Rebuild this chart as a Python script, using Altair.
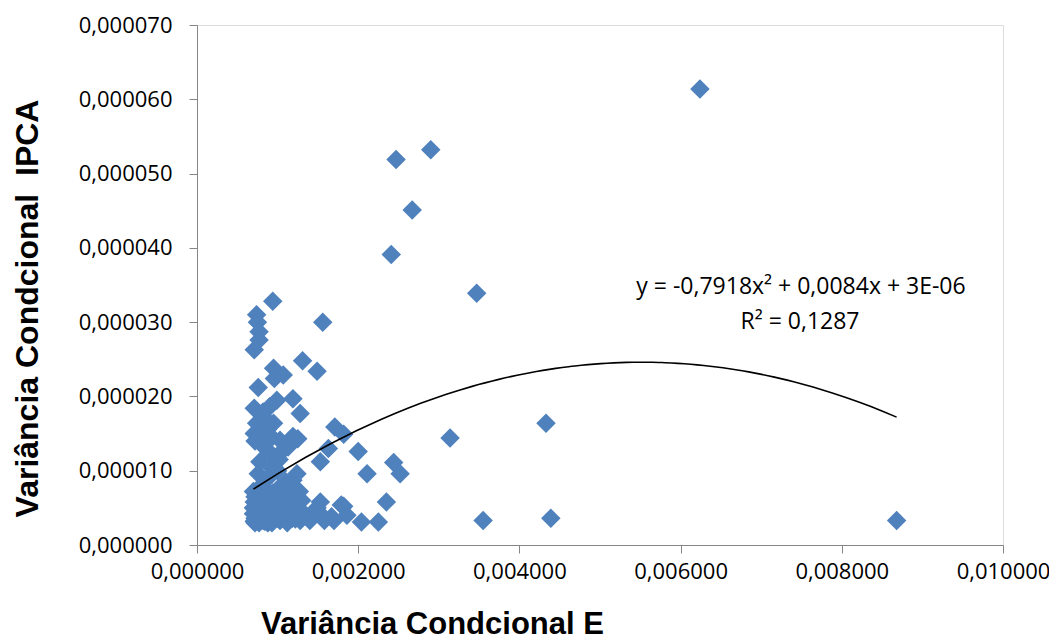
import altair as alt
import pandas as pd

# x values in units of 1e-3, y values in units of 1e-5
x_e3 = [6.24, 2.90, 2.47, 2.67, 2.41, 3.47, 1.56, 4.33, 3.14, 8.68, 4.39, 3.55,
        0.94, 0.74, 0.75, 0.77, 0.77, 0.71, 1.31, 1.49, 0.95, 1.07, 0.96,
        0.76, 1.19, 0.99, 0.71, 1.28, 0.82, 0.90, 0.74, 0.95, 0.85, 1.71, 1.82, 0.71, 0.87, 0.72, 1.19, 1.25, 1.03, 0.93, 0.80,
        2.00, 1.63, 1.53, 2.44, 2.52, 2.11, 1.24, 0.78, 0.91, 1.07, 0.76, 0.91, 1.19, 1.02, 1.13, 0.85, 1.00, 0.88,
        2.35, 1.82, 2.25, 2.04, 1.86, 1.70, 1.53, 1.44, 1.24, 1.28, 1.03, 0.82, 0.70, 0.72, 0.86, 1.03, 1.15, 1.79, 1.67, 1.55,
        1.58, 0.75, 0.80, 0.90, 0.95, 1.10, 1.18, 0.88, 0.72, 1.00, 1.10, 0.78, 0.95, 1.20, 1.35, 1.30, 1.12, 0.98, 0.85, 0.70,
        0.80, 1.40, 1.27, 1.49,
        0.72, 0.78, 0.84, 0.92, 0.97, 1.05, 1.08, 0.90, 0.82, 0.74, 1.15, 1.22, 0.86, 0.94, 1.02, 0.76, 0.88, 1.00, 1.14, 0.70,
        0.71, 0.73, 0.77, 0.79, 0.81, 0.83, 0.87, 0.89, 0.93, 0.96, 0.71, 0.75, 0.79, 0.84, 0.89, 0.93, 0.74, 0.81, 0.86, 0.91]
y_e5 = [6.14, 5.32, 5.19, 4.51, 3.91, 3.39, 3.00, 1.64, 1.44, 0.33, 0.36, 0.33,
        3.28, 3.10, 3.00, 2.87, 2.76, 2.63, 2.48, 2.34, 2.38, 2.29, 2.24,
        2.12, 1.97, 1.95, 1.84, 1.77, 1.79, 1.86, 1.64, 1.64, 1.70, 1.59, 1.49, 1.50, 1.55, 1.40, 1.46, 1.43, 1.41, 1.45, 1.45,
        1.26, 1.30, 1.12, 1.11, 0.96, 0.96, 0.96, 1.12, 1.24, 1.28, 0.96, 1.06, 0.87, 1.15, 1.32, 1.30, 1.00, 0.90,
        0.58, 0.52, 0.31, 0.31, 0.40, 0.33, 0.58, 0.42, 0.47, 0.33, 0.33, 0.33, 0.42, 0.65, 0.70, 0.60, 0.70, 0.54, 0.38, 0.40,
        0.33, 0.50, 0.80, 0.55, 0.40, 0.45, 0.36, 0.30, 0.30, 0.75, 0.85, 0.58, 0.65, 0.55, 0.40, 0.60, 0.30, 0.50, 0.45, 0.72,
        0.36, 0.33, 0.72, 0.50,
        0.36, 0.45, 0.38, 0.33, 0.42, 0.38, 0.52, 0.48, 0.55, 0.60, 0.40, 0.35, 0.62, 0.70, 0.45, 0.34, 0.40, 0.36, 0.60, 0.50,
        0.32, 0.44, 0.30, 0.52, 0.35, 0.47, 0.31, 0.43, 0.30, 0.55, 0.58, 0.38, 0.41, 0.32, 0.36, 0.46, 0.53, 0.50, 0.34, 0.40]

x_ticks = [0, 0.002, 0.004, 0.006, 0.008, 0.010]
y_ticks = [0, 0.00001, 0.00002, 0.00003, 0.00004, 0.00005, 0.00006, 0.00007]
eq_text = "y = -0,7918x² + 0,0084x + 3E-06"
r2_text = "R² = 0,1287"

df = pd.DataFrame({
    "x": [v * 1e-3 for v in x_e3],
    "y": [v * 1e-5 for v in y_e5],
})

label_expr = "replace(format(datum.value, '.6f'), '.', ',')"

xs = alt.Scale(domain=[0, 0.01], nice=False, zero=False)
ys = alt.Scale(domain=[0, 0.00007], nice=False, zero=False)

x_axis = alt.Axis(
    values=x_ticks, labelExpr=label_expr, grid=False, labelFlush=False, labelOverlap=False,
    domainColor="#868686", tickColor="#868686", tickSize=8,
    labelFont="Open Sans", labelFontSize=22, labelColor="#000000", labelPadding=8,
    title="Variância Condcional E", titleFont="Liberation Sans", titleFontSize=31,
    titleFontWeight="bold", titleColor="#000000", titleX=235, titleY=79,
    titleBaseline="middle", titleAlign="center",
)
y_axis = alt.Axis(
    values=y_ticks, labelExpr=label_expr, grid=False, labelFlush=False, labelOverlap=False,
    domainColor="#868686", tickColor="#868686", tickSize=8,
    labelFont="Open Sans", labelFontSize=22, labelColor="#000000", labelPadding=17,
    title="Variância Condcional\u00a0 IPCA", titleFont="Liberation Sans", titleFontSize=32,
    titleFontWeight="bold", titleColor="#000000", titleX=-170, titleY=283,
    titleBaseline="middle", titleAlign="center", titleAngle=-90,
)

base = alt.Chart(df)

points = base.mark_point(shape="diamond", filled=True, size=380, opacity=1,
                         color="#4F81BD").encode(
    x=alt.X("x:Q", scale=xs, axis=x_axis),
    y=alt.Y("y:Q", scale=ys, axis=y_axis),
)

trend = base.transform_regression("x", "y", method="poly", order=2).mark_line(
    color="#000000", strokeWidth=1.6).encode(
    x=alt.X("x:Q", scale=xs),
    y=alt.Y("y:Q", scale=ys),
)

eq = alt.Chart(pd.DataFrame({"t": [eq_text]})).mark_text(
    font="Open Sans", fontSize=23, color="#000000", align="center", baseline="middle"
).encode(x=alt.value(604), y=alt.value(262), text="t:N")

r2 = alt.Chart(pd.DataFrame({"t": [r2_text]})).mark_text(
    font="Open Sans", fontSize=23, color="#000000", align="center", baseline="middle"
).encode(x=alt.value(603), y=alt.value(297), text="t:N")

chart = alt.layer(points, trend, eq, r2).properties(
    width=806, height=520,
    autosize=alt.AutoSizeParams(type="none"),
    padding={"left": 189, "top": 17, "right": 46, "bottom": 95},
).configure_view(stroke=None).configure(background="#ffffff")

chart.save("out.html", embed_options={"renderer": "svg", "actions": False})
